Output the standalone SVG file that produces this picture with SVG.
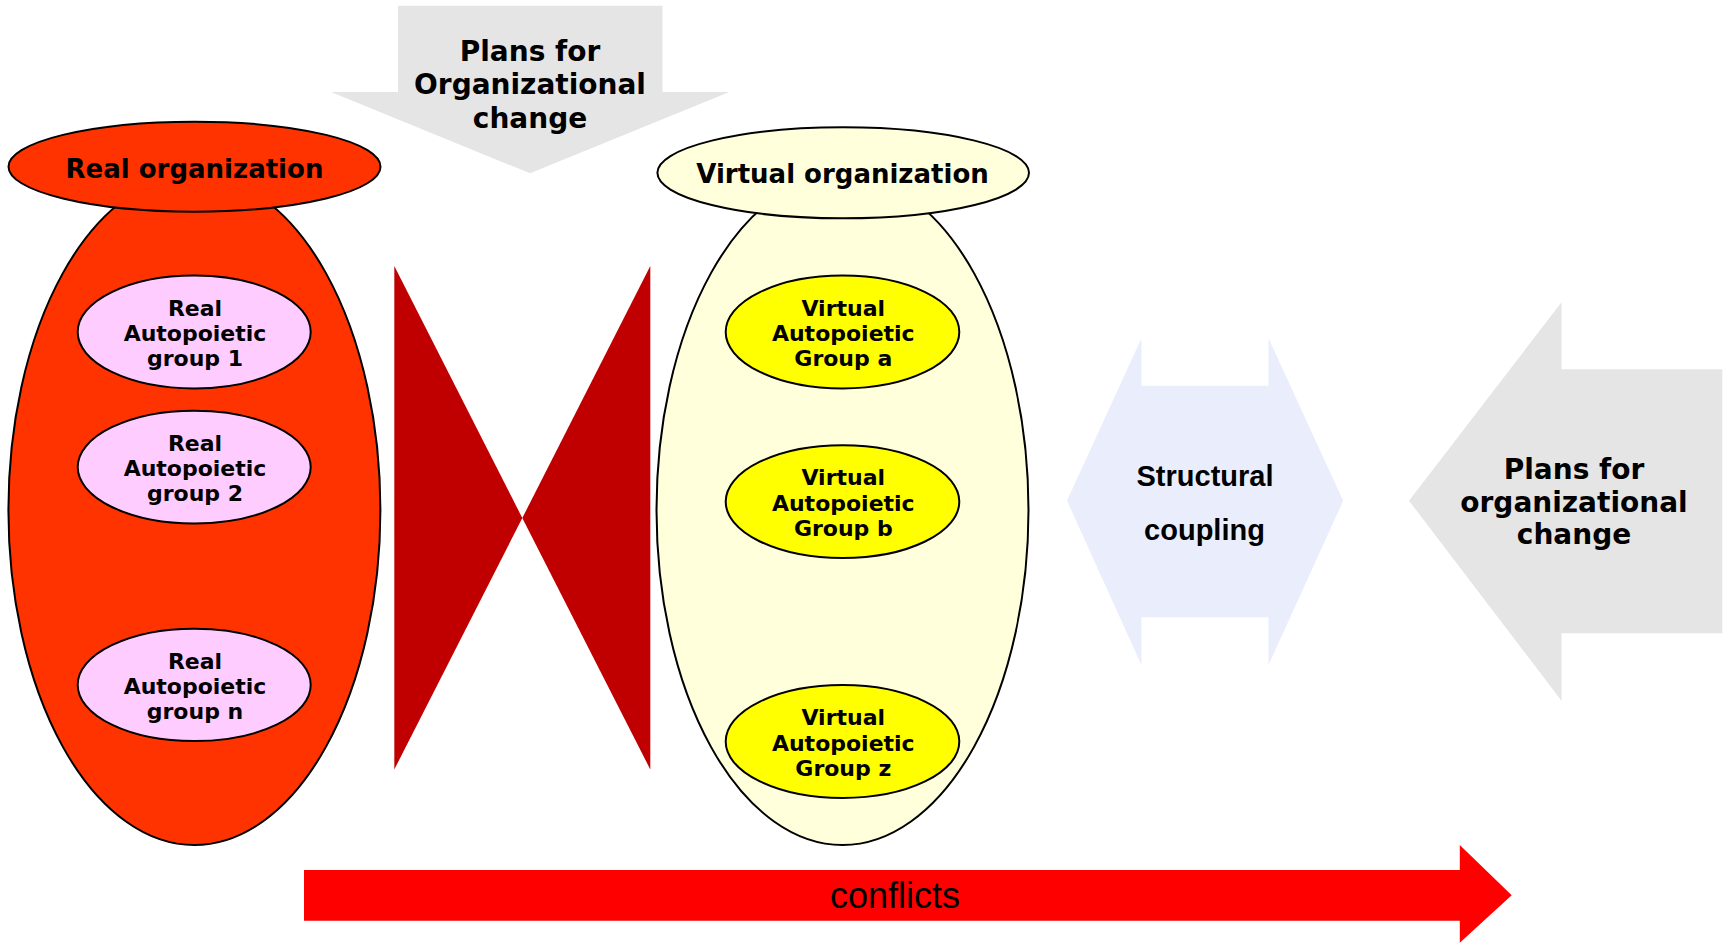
<svg xmlns="http://www.w3.org/2000/svg" width="1725" height="943" viewBox="0 0 1725 943">
<style>
.bold{font-family:"DejaVu Sans",Verdana,sans-serif;font-weight:bold;fill:#000;text-anchor:middle}
.h{font-size:26px}
.g{font-size:22px}
.p{font-size:28px}
.arial{font-family:"Liberation Sans",Arial,sans-serif;fill:#000;text-anchor:middle}
.ol{stroke:#000;stroke-width:2}
</style>
<rect width="1725" height="943" fill="#fff"/>
<g id="plans-top">
<polygon points="398,5.7 662.5,5.7 662.5,92 729.4,92 530,173.3 331,92 398,92" fill="#e5e5e5"/>
<text class="bold p" x="530" y="61">Plans for</text>
<text class="bold p" x="530" y="94.3">Organizational</text>
<text class="bold p" x="530" y="127.7">change</text>
</g>
<g id="real-organization">
<ellipse class="ol" cx="194.4" cy="510" rx="186" ry="335" fill="#ff3300"/>
<ellipse class="ol" cx="194.5" cy="166.7" rx="186" ry="45" fill="#ff3300"/>
<text class="bold h" x="194.5" y="177.7">Real organization</text>
</g>
<g id="real-group-1">
<ellipse class="ol" cx="194.2" cy="332" rx="116.5" ry="56.4" fill="#ffccff"/>
<text class="bold g" x="195" y="315.8">Real</text>
<text class="bold g" x="195" y="341">Autopoietic</text>
<text class="bold g" x="195" y="366">group 1</text>
</g>
<g id="real-group-2">
<ellipse class="ol" cx="194.2" cy="467.1" rx="116.5" ry="56.4" fill="#ffccff"/>
<text class="bold g" x="195" y="450.9">Real</text>
<text class="bold g" x="195" y="476.1">Autopoietic</text>
<text class="bold g" x="195" y="501.1">group 2</text>
</g>
<g id="real-group-n">
<ellipse class="ol" cx="194.2" cy="684.9" rx="116.5" ry="56.2" fill="#ffccff"/>
<text class="bold g" x="195" y="668.7">Real</text>
<text class="bold g" x="195" y="693.9">Autopoietic</text>
<text class="bold g" x="195" y="718.9">group n</text>
</g>
<g id="bowtie">
<polygon points="394.3,266 394.3,769.5 522.3,518 " fill="#c00000"/>
<polygon points="650.3,266 650.3,769.5 522.3,518" fill="#c00000"/>
</g>
<g id="virtual-organization">
<ellipse class="ol" cx="842.5" cy="510" rx="186" ry="335" fill="#ffffdc"/>
<ellipse class="ol" cx="843.2" cy="172.8" rx="185.8" ry="45.5" fill="#ffffdc"/>
<text class="bold h" x="842.5" y="183.3">Virtual organization</text>
</g>
<g id="virtual-group-a">
<ellipse class="ol" cx="842.5" cy="332" rx="116.8" ry="56.4" fill="#ffff00"/>
<text class="bold g" x="843.3" y="315.8">Virtual</text>
<text class="bold g" x="843.3" y="341">Autopoietic</text>
<text class="bold g" x="843.3" y="366">Group a</text>
</g>
<g id="virtual-group-b">
<ellipse class="ol" cx="842.5" cy="501.6" rx="116.8" ry="56.4" fill="#ffff00"/>
<text class="bold g" x="843.3" y="485.4">Virtual</text>
<text class="bold g" x="843.3" y="510.6">Autopoietic</text>
<text class="bold g" x="843.3" y="535.6">Group b</text>
</g>
<g id="virtual-group-z">
<ellipse class="ol" cx="842.5" cy="741.5" rx="116.8" ry="56.4" fill="#ffff00"/>
<text class="bold g" x="843.3" y="725.3">Virtual</text>
<text class="bold g" x="843.3" y="750.5">Autopoietic</text>
<text class="bold g" x="843.3" y="775.5">Group z</text>
</g>
<g id="structural-coupling">
<polygon points="1141.4,338.3 1141.4,385.7 1268.5,385.7 1268.5,338.3 1343.2,500.7 1268.5,665 1268.5,617.3 1141.4,617.3 1141.4,665 1067,500.7" fill="#eaedfc"/>
<text class="arial" font-weight="bold" font-size="29" x="1205" y="485.7">Structural</text>
<text class="arial" font-weight="bold" font-size="29" x="1204.5" y="540">coupling</text>
</g>
<g id="plans-right">
<polygon points="1409,500.7 1561.5,302.3 1561.5,369.3 1722.3,369.3 1722.3,633.3 1561.5,633.3 1561.5,700.7" fill="#e5e5e5"/>
<text class="bold p" x="1574" y="479.3">Plans for</text>
<text class="bold p" x="1574" y="511.7">organizational</text>
<text class="bold p" x="1574" y="544">change</text>
</g>
<g id="connectors">
<g id="conflicts">
<polygon points="304,870 1459.8,870 1459.8,845 1511.7,895.3 1459.8,942.7 1459.8,920.7 304,920.7" fill="#ff0000"/>
<text class="arial" font-size="36" x="895" y="908.3">conflicts</text>
</g>
</g>
</svg>
